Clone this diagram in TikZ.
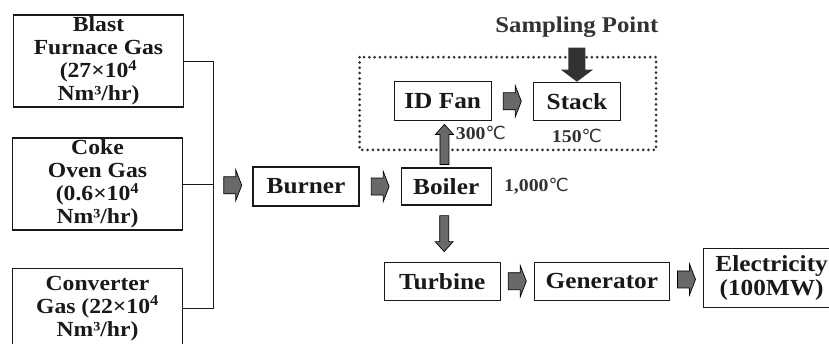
\documentclass[tikz,border=0pt]{standalone}
\usepackage{fontspec}
\setmainfont{Liberation Serif}[FakeStretch=1.1]
\newfontfamily\degfont{DejaVu Sans}
\usepackage{tikz}
\usetikzlibrary{positioning, calc}
\definecolor{ink}{RGB}{25,25,25}
\definecolor{arrowgray}{RGB}{105,105,105}
\definecolor{darkgray}{RGB}{50,50,50}
\newcommand{\degC}{{\degfont\mdseries ℃}}

\begin{document}
\begin{tikzpicture}[x=1pt, y=1pt,
    unit/.style={draw=ink, line width=1.2pt, inner sep=0pt, minimum height=38pt, align=center, font=\fontsize{23}{20.5}\selectfont\bfseries, text=ink},
    gas/.style={unit, minimum width=170pt, minimum height=92pt, font=\fontsize{21.5}{22.8}\selectfont\bfseries},
    flowfill/.style={draw=black, line width=0.7pt, fill=arrowgray},
    temp/.style={inner sep=0pt, font=\fontsize{18}{18}\selectfont\bfseries, text=darkgray},
    pipe/.style={draw=ink, line width=1pt},
    zone/.style={draw=darkgray, line width=3pt, line cap=round, dash pattern=on 0pt off 5.3pt},
    pics/flow/.style={code={\draw[flowfill] (-9,8.5) -- (3,8.5) -- (3,15.5) -- (9,0) -- (3,-15.5) -- (3,-8.5) -- (-9,-8.5) -- cycle;}},
    pics/vflow/.style={code={\draw[flowfill] (-#1,4.5) -- (#1-10,4.5) -- (#1-10,9) -- (#1,0) -- (#1-10,-9) -- (#1-10,-4.5) -- (-#1,-4.5) -- cycle;}},
    pics/probe/.style={code={\fill[darkgray] (-17,8.5) -- (5,8.5) -- (5,16) -- (17,0) -- (5,-16) -- (5,-8.5) -- (-17,-8.5) -- cycle;}}
]
\useasboundingbox (0,0) rectangle (829,-343);
\clip (0,0) rectangle (829,-343);

\node[gas] (blast) at (98.5,-61) {Blast\\Furnace Gas\\(27×10\textsuperscript{4}\\Nm³/hr)};
\node[gas] (coke) at (97.5,-184) {Coke\\Oven Gas\\(0.6×10\textsuperscript{4}\\Nm³/hr)};
\node[gas, minimum height=80pt, anchor=north] (conv) at (97.5,-268) {Converter\\Gas (22×10\textsuperscript{4}\\Nm³/hr)};

\node[unit, minimum width=106pt, minimum height=39pt] (burner) at (306,-186.5) {Burner};
\node[unit, minimum width=90pt, minimum height=37pt, right=41pt of burner] (boiler) {Boiler};
\node[unit, minimum width=97pt, minimum height=39pt, above=46pt of boiler, xshift=-3.5pt] (idfan) {ID Fan};
\node[unit, minimum width=87pt, right=41pt of idfan] (stack) {Stack};
\node[unit, minimum width=116pt, below=56pt of boiler, xshift=-4pt] (turbine) {Turbine};
\node[unit, minimum width=135pt, right=33pt of turbine] (generator) {Generator};
\node[unit, minimum width=136pt, minimum height=59pt, right=33pt of generator, yshift=3.5pt] (power) {Electricity\\[2pt](100MW)};

\node[inner sep=0pt, font=\fontsize{22.5}{22.5}\selectfont\bfseries, text=darkgray, above=44pt of stack] (sampling) {Sampling Point};

\node[temp, below right=5pt and 13pt of idfan.south] (t300) {300\degC};
\node[temp, below=8pt of stack] (t150) {150\degC};
\node[temp, right=12pt of boiler] (t1000) {1,000\degC};

\draw[zone] ($(idfan.north west)+(-34,24)$) rectangle ($(stack.south east)+(35,-29)$);

\coordinate (bus) at ($(coke.east)+(30,0)$);
\draw[pipe] (blast.east) -| (bus) |- (conv.east);
\draw[pipe] (coke.east) -- (bus);

\pic at ($(bus)!0.5!(burner.west)$) {flow};
\pic at ($(burner.east)!0.5!(boiler.west)$) {flow};
\pic at ($(idfan.east)!0.5!(stack.west)$) {flow};
\pic at ($(turbine.east)!0.5!(generator.west)$) {flow};
\pic at ($(generator.east)!0.5!(power.west)$) {flow};
\pic[rotate=90] at ($(boiler.north)!0.5!(idfan.south)$) {vflow=20};
\pic[rotate=-90] at ($(boiler.south)!0.5!(turbine.north)$) {vflow=18};
\pic[rotate=-90] at ($(stack.north)+(0,17)$) {probe};

\end{tikzpicture}
\end{document}
